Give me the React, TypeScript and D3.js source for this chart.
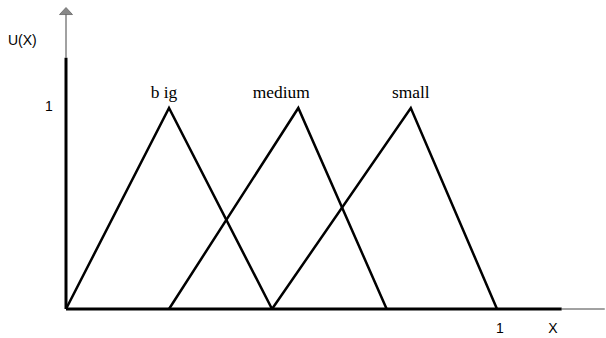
import React from "react";
import { scaleLinear, line } from "d3";

// membership functions: [start, peak, end] on the unit universe
const setNames = ["big", "medium", "small"];
const setLabels = ["b ig", "medium", "small"];
const setPoints = [
  [0, 0.239, 0.478],
  [0.239, 0.539, 0.744],
  [0.478, 0.8, 1.0],
];
const peakValues = [1, 1, 1];
const xTicks = [1];
const yTicks = [1];

function App() {
  const width = 606;
  const height = 338;

  const xScale = scaleLinear().domain([0, 1]).range([66, 497]);
  const yScale = scaleLinear().domain([0, 1]).range([309, 108]);

  const tri = line<[number, number]>()
    .x((d) => xScale(d[0]))
    .y((d) => yScale(d[1]));

  const x0 = xScale(0);
  const y0 = yScale(0);
  const labelOffset = [-5, -17, 0];

  return (
    <div style={{ position: "fixed", left: 0, top: 0 }}>
      <svg width={width} height={height} style={{ display: "block" }}>
        <rect width={width} height={height} fill="white" />
        {/* y axis: thin part with arrow, then thick part */}
        <line x1={x0} x2={x0} y1={yScale(1.47)} y2={yScale(1.25)} stroke="#444" strokeWidth={1} />
        <line x1={x0} x2={x0} y1={yScale(1.25)} y2={y0} stroke="black" strokeWidth={3} />
        <path
          d={`M${x0},${yScale(1.5)} L${x0 + 6.5},${yScale(1.465)} L${x0 - 6.5},${yScale(1.465)} Z`}
          fill="#888"
          stroke="#666"
          strokeWidth={0.8}
        />
        {/* x axis */}
        <line x1={xScale(1.15)} x2={xScale(1.25)} y1={y0} y2={y0} stroke="#444" strokeWidth={1} />
        <line x1={x0} x2={xScale(1.15)} y1={y0} y2={y0} stroke="black" strokeWidth={3} />

        <text x={8} y={45} fontFamily="Liberation Sans, Arial, sans-serif" fontSize={14}>
          U(X)
        </text>
        {yTicks.map((t) => (
          <text key={t} x={45} y={yScale(t) + 3} fontFamily="Liberation Sans, Arial, sans-serif" fontSize={14}>
            {t}
          </text>
        ))}
        {xTicks.map((t) => (
          <text key={t} x={xScale(t) + 3} y={333} textAnchor="middle" fontFamily="Liberation Sans, Arial, sans-serif" fontSize={14}>
            {t}
          </text>
        ))}
        <text x={553} y={333} textAnchor="middle" fontFamily="Liberation Sans, Arial, sans-serif" fontSize={14}>
          X
        </text>

        {setNames.map((name, i) => {
          const [a, b, c] = setPoints[i];
          const pts: [number, number][] = [
            [a, 0],
            [b, peakValues[i]],
            [c, 0],
          ];
          return (
            <g key={name}>
              <path d={tri(pts) || ""} fill="none" stroke="black" strokeWidth={2.5} strokeLinejoin="miter" />
              <text
                x={xScale(b) + labelOffset[i]}
                y={yScale(peakValues[i]) - 10}
                textAnchor="middle"
                fontFamily="Liberation Serif, Times New Roman, serif"
                fontSize={17.4}
              >
                {setLabels[i]}
              </text>
            </g>
          );
        })}
      </svg>
    </div>
  );
}

export default App;
